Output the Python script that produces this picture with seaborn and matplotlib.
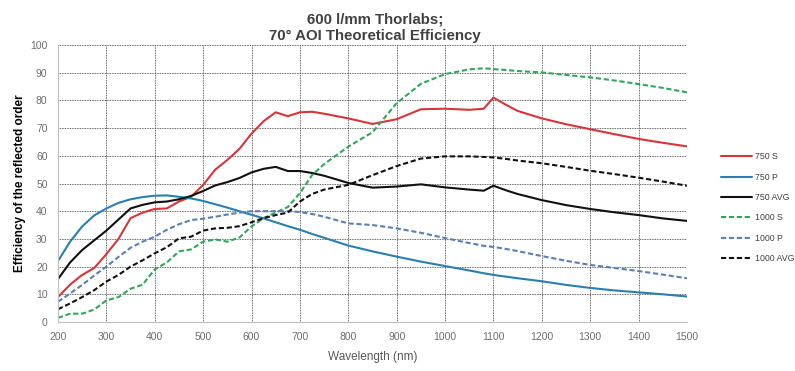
import numpy as np
import pandas as pd
import seaborn as sns
import matplotlib
matplotlib.use("Agg")
import matplotlib.pyplot as plt
from matplotlib.lines import Line2D

wavelength = [200, 225, 250, 275, 300, 325, 350, 375, 400, 425, 450, 475, 500, 525, 550,
              575, 600, 625, 650, 675, 700, 725, 750, 800, 850, 900, 950, 1000, 1050, 1080,
              1100, 1125, 1150, 1200, 1250, 1300, 1350, 1400, 1450, 1500]

s750 = [9, 13.5, 17, 19.5, 24.5, 30, 37.5, 39.5, 40.8, 41, 43.5, 45.2, 49.5, 55, 58.5,
        62.5, 68, 72.5, 75.7, 74.3, 75.7, 75.9, 75.2, 73.5, 71.5, 73.2, 76.8, 77, 76.6, 77,
        81, 78.5, 76.2, 73.5, 71.4, 69.6, 67.8, 66.1, 64.7, 63.4]
p750 = [22, 29, 34.5, 38.5, 41, 43, 44.3, 45.1, 45.6, 45.7, 45.2, 44.6, 43.7, 42.5, 41.3,
        40, 38.7, 37.4, 36, 34.6, 33.3, 31.8, 30.4, 27.6, 25.5, 23.6, 21.8, 20.2, 18.6, 17.6,
        17, 16.4, 15.8, 14.7, 13.4, 12.3, 11.4, 10.7, 10, 9.2]
avg750 = [15.5, 21.5, 26, 29.5, 33, 37, 41, 42.3, 43.2, 43.5, 44.3, 45.5, 47.3, 49.3, 50.5,
          52, 54, 55.3, 56, 54.5, 54.5, 53.8, 52.8, 50.2, 48.5, 48.9, 49.7, 48.6, 47.8, 47.4,
          49.2, 47.6, 46.2, 44, 42.2, 40.8, 39.6, 38.6, 37.4, 36.5]
s1000 = [1.5, 3, 3, 4.5, 7.8, 9, 12, 13.5, 19, 21.5, 25.5, 26.2, 29, 29.8, 29,
         30.5, 34.5, 37.5, 39.5, 41.5, 46.5, 53, 57, 63.3, 68.5, 79, 86, 89.5, 91.2, 91.6,
         91.3, 91, 90.6, 90.1, 89.2, 88.3, 87.2, 85.9, 84.5, 82.9]
p1000 = [7.3, 10.3, 13.4, 16.8, 20, 23.5, 26.8, 29, 30.8, 33.3, 35.3, 36.8, 37.3, 38, 38.8,
         39.5, 40, 40, 40, 40, 39.7, 39, 38, 35.6, 35, 33.8, 32.2, 30.3, 28.5, 27.5,
         27.1, 26.4, 25.6, 23.8, 22.1, 20.6, 19.5, 18.4, 17.1, 15.8]
avg1000 = [4.6, 6.7, 9, 11.5, 14.6, 17, 20, 22.3, 24.8, 27, 30.2, 30.8, 33, 33.8, 34,
           34.6, 36, 37.5, 38.6, 39.5, 43.5, 46.2, 47.8, 49.5, 53, 56.3, 59, 59.8, 59.8, 59.6,
           59.4, 58.9, 58.3, 57.3, 56, 54.6, 53.4, 52.1, 50.7, 49.2]

series_names = ["750 S", "750 P", "750 AVG", "1000 S", "1000 P", "1000 AVG"]
series_values = [s750, p750, avg750, s1000, p1000, avg1000]

frames = []
for name, vals in zip(series_names, series_values):
    frames.append(pd.DataFrame({"Wavelength": wavelength, "Efficiency": vals, "Series": name}))
df = pd.concat(frames, ignore_index=True)

colors = {"750 S": "#D7353A", "750 P": "#2A7FB0", "750 AVG": "#111111",
          "1000 S": "#2FA75A", "1000 P": "#5A7EB5", "1000 AVG": "#111111"}
dash_pat = (2.5, 1.3)
dashes = {"750 S": "", "750 P": "", "750 AVG": "",
          "1000 S": dash_pat, "1000 P": dash_pat, "1000 AVG": dash_pat}

sns.set_theme(style="white")
plt.rcParams['font.family'] = ['Liberation Sans Narrow', 'Liberation Sans', 'DejaVu Sans']

fig = plt.figure(figsize=(7.95, 3.71), dpi=100)
ax = fig.add_axes([58/795, 1-322/371, (687-58)/795, (322-45)/371])

sns.lineplot(data=df, x="Wavelength", y="Efficiency", hue="Series", style="Series",
             hue_order=series_names, style_order=series_names,
             palette=colors, dashes=dashes, linewidth=1.5, ax=ax, legend=False)

ax.set_xlim(200, 1500)
ax.set_ylim(0, 100)
ax.set_xticks(np.arange(200, 1501, 100))
ax.set_yticks(np.arange(0, 101, 10))
ax.grid(True, color="#333333", linestyle=(0, (1, 1)), linewidth=0.6)
for side in ["top", "right"]:
    ax.spines[side].set_visible(False)
for side in ["left", "bottom"]:
    ax.spines[side].set_color("#BFBFBF")
    ax.spines[side].set_linewidth(0.8)
ax.tick_params(axis="both", labelsize=7.5, labelcolor="#6E6E6E", color="#555555",
               length=4, width=0.6, direction="out")
ax.set_xlabel("Wavelength (nm)", fontsize=8.5, color="#595959", labelpad=6)
ax.set_ylabel("Efficiency of the reflected order", fontsize=8.5, color="black",
              fontweight="bold", family=['Liberation Sans', 'DejaVu Sans'], labelpad=3)

fig.text(0.472, 0.926, "600 l/mm Thorlabs;\n70° AOI Theoretical Efficiency", ha="center",
         va="center", fontsize=10.8, fontweight="bold", color="#404040", linespacing=1.2,
         family=['Liberation Sans', 'DejaVu Sans'])

handles = [Line2D([0], [0], color=colors[n], lw=1.5,
                  linestyle="-" if dashes[n] == "" else (0, dashes[n])) for n in series_names]
fig.legend(handles, series_names, loc="center left", bbox_to_anchor=(0.897, 0.44),
           frameon=False, fontsize=6.3, handlelength=3.6, labelspacing=1.3,
           handletextpad=0.25, labelcolor="#404040")

fig.savefig("out.png", dpi=100)
